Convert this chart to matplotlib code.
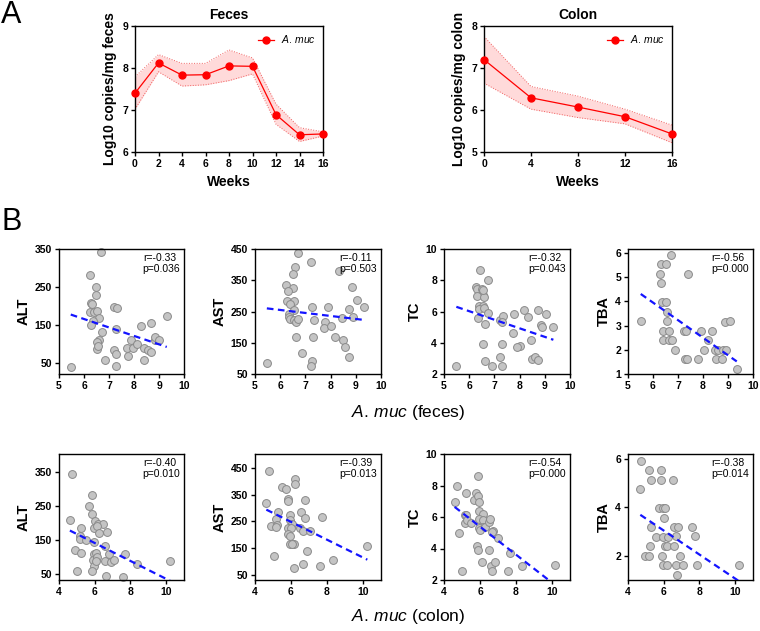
import numpy as np
import matplotlib.pyplot as plt

plt.rcParams['font.family'] = ['Liberation Sans', 'DejaVu Sans']
plt.rcParams['mathtext.fontset'] = 'custom'
plt.rcParams['mathtext.it'] = 'Liberation Sans:italic'
plt.rcParams['mathtext.rm'] = 'Liberation Sans'

W, H = 760, 631

# ---- panel A: time course ----
weeks_feces = [0, 2, 4, 6, 8, 10, 12, 14, 16]
feces_mean = [7.40, 8.12, 7.83, 7.84, 8.05, 8.04, 6.89, 6.41, 6.43]
feces_hi = [7.79, 8.32, 8.11, 8.11, 8.43, 8.24, 7.14, 6.58, 6.48]
feces_lo = [7.02, 7.91, 7.57, 7.60, 7.70, 7.86, 6.66, 6.25, 6.38]

weeks_colon = [0, 4, 8, 12, 16]
colon_mean = [7.20, 6.29, 6.07, 5.84, 5.43]
colon_hi = [7.75, 6.56, 6.33, 6.02, 5.64]
colon_lo = [6.64, 6.02, 5.82, 5.67, 5.22]

# ---- panel B: correlations with A. muc (feces) ----
fa_alt_x = [5.47, 6.69, 6.25, 6.47, 6.49, 6.29, 6.33, 6.25, 6.40, 6.53, 6.60, 6.37, 6.29,
            6.72, 6.60, 6.53, 6.53, 6.57, 6.85, 7.20, 7.33, 7.27, 7.20, 7.29, 7.27, 7.72,
            7.75, 7.87, 7.97, 8.13, 8.28, 8.41, 8.41, 8.55, 8.69, 8.69, 8.83, 8.85, 8.98, 9.31]
fa_alt_y = [40, 342, 282, 250, 228, 209, 205, 185, 185, 187, 169, 161, 151,
            132, 112, 106, 87, 96, 58, 197, 195, 141, 86, 74, 43, 89,
            68, 110, 89, 100, 147, 89, 60, 86, 81, 155, 111, 120, 111, 174]

fa_ast_x = [5.47, 6.71, 7.21, 6.60, 6.49, 6.24, 6.51, 6.31, 6.28, 6.55, 6.40, 6.55, 6.36,
            6.33, 6.37, 6.55, 6.61, 6.72, 6.61, 6.88, 7.28, 7.35, 7.32, 7.28, 7.21, 7.76,
            7.75, 7.88, 8.00, 8.17, 8.32, 8.44, 8.48, 8.59, 8.73, 8.73, 8.83, 8.88, 9.03, 9.33]
fa_ast_y = [85, 438, 410, 392, 370, 335, 324, 317, 283, 285, 275, 254, 243,
            232, 227, 222, 215, 227, 167, 118, 266, 222, 167, 91, 75, 217,
            196, 266, 205, 167, 380, 228, 159, 138, 104, 259, 329, 234, 286, 263]

fa_tc_x = [5.49, 6.41, 6.73, 6.25, 6.32, 6.51, 6.53, 6.30, 6.57, 6.55, 6.37, 6.55, 6.39,
           6.57, 6.75, 6.33, 6.62, 7.24, 7.35, 7.30, 7.78, 7.75, 8.19, 8.33, 8.73, 9.05,
           8.84, 8.90, 9.34, 8.44, 6.55, 7.31, 8.02, 7.90, 6.62, 7.23, 6.89, 7.29, 8.50,
           8.61, 8.73]
fa_tc_y = [2.51, 8.64, 8.00, 7.55, 7.45, 7.47, 7.08, 7.02, 6.91, 7.39, 6.38, 6.34, 6.13,
           6.20, 5.92, 5.60, 5.19, 5.47, 5.72, 5.32, 5.87, 4.61, 6.11, 5.64, 6.11, 5.87,
           5.15, 5.00, 5.04, 4.17, 3.89, 3.95, 3.80, 3.70, 2.85, 3.08, 2.51, 2.51, 2.94,
           3.08, 2.87]

fa_tba_x = [5.51, 6.73, 6.33, 6.53, 6.29, 6.33, 7.38, 6.37, 6.53, 6.57, 6.57, 6.41, 6.64,
            6.41, 6.64, 6.76, 6.89, 7.23, 7.31, 7.27, 7.35, 7.79, 7.91, 8.04, 8.20, 8.36,
            8.48, 8.51, 8.61, 8.75, 8.79, 8.92, 8.87, 9.07, 9.35]
fa_tba_y = [3.20, 5.94, 5.55, 5.55, 5.14, 4.76, 5.14, 3.96, 3.96, 3.57, 3.20, 2.79, 2.79,
            2.39, 2.39, 2.39, 2.00, 2.79, 2.79, 1.62, 1.62, 1.62, 2.79, 2.00, 2.39, 2.79,
            2.00, 1.62, 2.00, 1.62, 2.00, 2.00, 3.17, 3.20, 1.20]

# ---- panel B: correlations with A. muc (colon) ----
co_alt_x = [4.73, 4.61, 5.25, 5.17, 5.17, 5.53, 4.89, 5.25, 5.03, 5.83, 5.68, 5.83, 6.03,
            6.20, 6.46, 5.94, 6.12, 6.24, 6.70, 5.94, 6.57, 5.94, 6.08, 5.90, 6.12, 5.97,
            6.08, 5.86, 6.57, 6.80, 6.89, 7.06, 6.65, 7.60, 7.71, 8.36, 10.24]
co_alt_y = [343, 208, 186, 160, 152, 148, 120, 110, 58, 282, 250, 227, 206,
            197, 196, 184, 189, 169, 173, 142, 132, 108, 112, 90, 98, 73,
            86, 59, 87, 108, 83, 91, 43, 39, 109, 78, 88]

co_ast_x = [4.75, 4.63, 5.27, 5.16, 4.91, 5.23, 5.19, 5.04, 5.52, 5.71, 5.83, 5.84, 5.94,
            5.94, 6.08, 5.83, 6.01, 5.84, 5.97, 5.96, 6.16, 6.05, 6.24, 6.24, 6.50, 6.58,
            6.65, 6.76, 6.80, 6.91, 7.07, 6.69, 6.16, 7.60, 7.73, 8.36, 10.24]
co_ast_y = [437, 317, 286, 259, 234, 237, 229, 119, 377, 371, 335, 325, 274,
            256, 241, 227, 227, 204, 194, 166, 166, 166, 410, 391, 224, 285,
            216, 264, 329, 139, 216, 91, 74, 84, 265, 104, 159]

co_tc_x = [4.70, 4.59, 4.85, 4.98, 5.22, 5.15, 5.22, 5.15, 5.30, 5.48, 5.64, 5.78, 5.89,
           5.89, 5.96, 5.96, 6.15, 5.93, 6.15, 6.18, 5.93, 5.98, 6.26, 6.48, 6.54, 6.72,
           6.67, 6.98, 5.85, 5.89, 6.52, 6.11, 6.59, 6.81, 6.67, 7.56, 7.67, 8.33, 10.15]
co_tc_y = [7.99, 6.98, 5.00, 2.55, 7.55, 6.14, 6.10, 5.59, 5.84, 5.63, 7.11, 7.53, 8.63,
           7.36, 6.94, 6.39, 6.22, 5.88, 5.84, 5.34, 5.29, 5.17, 5.38, 5.67, 5.88, 5.10,
           5.04, 4.64, 4.15, 3.90, 3.90, 3.14, 2.89, 3.14, 2.57, 2.55, 3.69, 2.89, 2.95]

co_tba_x = [4.73, 4.69, 5.20, 5.30, 5.87, 5.87, 6.50, 5.72, 5.98, 6.09, 6.00, 5.30, 6.57,
            6.80, 7.61, 5.57, 5.98, 6.24, 6.67, 7.74, 5.24, 6.07, 6.17, 6.57, 4.96, 5.17,
            5.91, 6.91, 5.98, 6.17, 6.69, 7.06, 7.89, 6.74, 10.22]
co_tba_y = [5.93, 4.76, 5.53, 5.14, 5.53, 5.14, 5.14, 3.96, 3.96, 3.96, 3.57, 3.20, 3.20,
            3.18, 3.20, 2.79, 2.79, 2.79, 2.81, 2.81, 2.39, 2.39, 2.39, 2.39, 2.00, 2.00,
            2.00, 2.00, 1.62, 1.62, 1.62, 1.62, 1.62, 1.20, 1.62]

# regression lines as drawn (x ends, y ends)
fit_feces = {'ALT': ([5.47, 9.31], [178, 93]), 'AST': ([5.47, 9.33], [260, 223]),
             'TC': ([5.49, 9.34], [6.30, 4.19]), 'TBA': ([5.51, 9.35], [4.31, 1.52])}
fit_colon = {'ALT': ([4.61, 10.24], [177, 28]), 'AST': ([4.63, 10.24], [294, 107]),
             'TC': ([4.59, 10.15], [6.64, 1.70]), 'TBA': ([4.69, 10.22], [3.69, 0.95])}

stats_feces = {'ALT': ('-0.33', '0.036'), 'AST': ('-0.11', '0.503'),
               'TC': ('-0.32', '0.043'), 'TBA': ('-0.56', '0.000')}
stats_colon = {'ALT': ('-0.40', '0.010'), 'AST': ('-0.39', '0.013'),
               'TC': ('-0.54', '0.000'), 'TBA': ('-0.38', '0.014')}

markers = ['ALT', 'AST', 'TC', 'TBA']
feces_data = {'ALT': (fa_alt_x, fa_alt_y), 'AST': (fa_ast_x, fa_ast_y),
              'TC': (fa_tc_x, fa_tc_y), 'TBA': (fa_tba_x, fa_tba_y)}
colon_data = {'ALT': (co_alt_x, co_alt_y), 'AST': (co_ast_x, co_ast_y),
              'TC': (co_tc_x, co_tc_y), 'TBA': (co_tba_x, co_tba_y)}

ylims_feces = {'ALT': ((22, 350), [50, 150, 250, 350]), 'AST': ((50, 450), [50, 150, 250, 350, 450]),
               'TC': ((2, 10), [2, 4, 6, 8, 10]), 'TBA': ((1, 6.17), [1, 2, 3, 4, 5, 6])}
ylims_colon = {'ALT': ((31, 403), [50, 150, 250, 350]), 'AST': ((31, 502), [50, 150, 250, 350, 450]),
               'TC': ((2, 10), [2, 4, 6, 8, 10]), 'TBA': ((1, 6.2), [2, 4, 6])}


def px_axes(fig, left, top, right, bottom):
    return fig.add_axes([left / W, 1 - bottom / H, (right - left) / W, (bottom - top) / H])


def style(ax, xt, yt, fs=7):
    for s in ax.spines.values():
        s.set_linewidth(1.0)
    ax.tick_params(direction='out', length=3, width=1.0, pad=2)
    ax.set_xticks(xt, [str(v) for v in xt], fontsize=fs, fontweight='bold')
    ax.set_yticks(yt, [str(v) for v in yt], fontsize=fs, fontweight='bold')


fig = plt.figure(figsize=(W / 100, H / 100), dpi=100)

# time course plots
for (left, right), wk, m, hi, lo, title, ylab, ylim, yt, xt in [
        ((135, 323), weeks_feces, feces_mean, feces_hi, feces_lo, 'Feces',
         'Log10 copies/mg feces', (6, 9), [6, 7, 8, 9], weeks_feces),
        ((484, 672), weeks_colon, colon_mean, colon_hi, colon_lo, 'Colon',
         'Log10 copies/mg colon', (5, 8), [5, 6, 7, 8], weeks_colon)]:
    ax = px_axes(fig, left, 26, right, 152)
    ax.fill_between(wk, lo, hi, color='#ff3333', alpha=0.18, lw=0)
    ax.plot(wk, hi, ':', color='#f06060', lw=0.7)
    ax.plot(wk, lo, ':', color='#f06060', lw=0.7)
    ax.plot(wk, m, '-o', color='#ff0000', lw=0.9, ms=5, clip_on=False, zorder=5,
            label=r'$\it{A.\,muc}$')
    ax.set_xlim(0, 16)
    ax.set_ylim(*ylim)
    ax.set_title(title, fontsize=10, fontweight='bold', pad=5)
    ax.set_xlabel('Weeks', fontsize=10, fontweight='bold', labelpad=4)
    ax.set_ylabel(ylab, fontsize=10, fontweight='bold', labelpad=4)
    ax.legend(loc='upper right', frameon=False, fontsize=7.5, handlelength=1.6,
              borderaxespad=0.3, handletextpad=0.6)
    style(ax, xt, yt, fs=7.5)

# scatter panels
col_x = [(59, 184), (255, 381), (444, 570), (628, 753)]
rows = [(249, 374, feces_data, fit_feces, stats_feces, ylims_feces, (5, 10), [5, 6, 7, 8, 9, 10]),
        (454, 580, colon_data, fit_colon, stats_colon, ylims_colon, (4, 11), [4, 6, 8, 10])]

for top, bottom, data, fits, stats, ylims, xlim, xt in rows:
    for (left, right), name in zip(col_x, markers):
        ax = px_axes(fig, left, top, right, bottom)
        x, y = data[name]
        ax.scatter(x, y, s=32, facecolor='#c4c4c4', edgecolor='#8a8a8a', linewidth=0.7,
                   zorder=2, clip_on=False)
        fx, fy = fits[name]
        ax.plot(fx, fy, color='#1414ff', lw=1.6, dashes=(3, 2), zorder=3)
        r, p = stats[name]
        ax.text(0.67, 0.97, 'r=' + r + '\np=' + p, transform=ax.transAxes,
                ha='left', va='top', fontsize=7.5, linespacing=1.15)
        ax.set_xlim(*xlim)
        (y0, y1), yt = ylims[name]
        ax.set_ylim(y0, y1)
        ax.set_ylabel(name, fontsize=10.5, fontweight='bold', labelpad=3)
        style(ax, xt, yt, fs=7.5)

fig.text(408 / W, 1 - 413 / H, r'$\it{A.\,muc}$ (feces)', ha='center', va='center', fontsize=12.5)
fig.text(408 / W, 1 - 617 / H, r'$\it{A.\,muc}$ (colon)', ha='center', va='center', fontsize=12.5)

fig.text(1 / W, 1 - 15 / H, 'A', fontsize=22, ha='left', va='center')
fig.text(1 / W, 1 - 222 / H, 'B', fontsize=22, ha='left', va='center')

fig.savefig('out.png', dpi=100)
